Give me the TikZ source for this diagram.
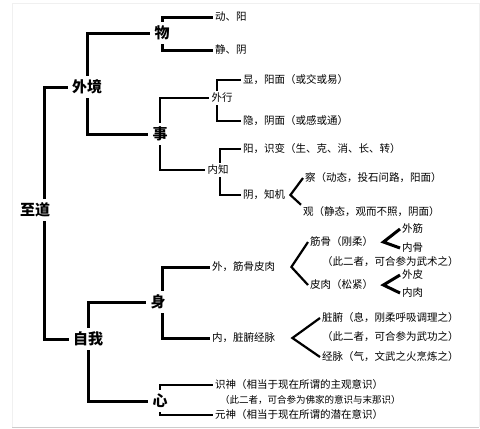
\documentclass[tikz,border=0pt]{standalone}
\usepackage{fontspec}
\newfontfamily\cjk{Noto Sans CJK SC}
\usepackage{tikz}
\usetikzlibrary{positioning,calc}

\begin{document}
\begin{tikzpicture}[x=1pt,y=-1pt,
    big/.style={font=\cjk\bfseries\fontsize{15}{15}\selectfont,inner sep=4pt},
    mid/.style={font=\cjk\fontsize{10.5}{11}\selectfont,inner sep=2pt},
    t/.style={font=\cjk\fontsize{10.5}{11}\selectfont,anchor=west,inner sep=2pt},
    br/.style={line width=3pt},
    thin/.style={line width=2.2pt}]
    \useasboundingbox (0,0) rectangle (480,429);
    \fill[white] (0,0) rectangle (480,429);
    \draw[black!6,line width=1pt] (12,427) -- (12,3) -- (479,3) -- (479,427);
    \draw[black!20,line width=1pt] (12,427) -- (479,427);
    % main labels
    \node[big] (zhidao) at (35,210) {至道};
    \node[big] (waijing) at (87,87) {外境};
    \node[big] (ziwo) at (88,339) {自我};
    \node[big] (wu) at (162,33) {物};
    \node[big] (shi) at (160,134) {事};
    \node[big] (shen) at (158,302) {身};
    \node[big] (xin) at (160,401) {心};
    \node[mid] (waixing) at (222,98) {外行};
    \node[mid] (neizhi) at (218,170) {内知};
    % leaves
    \node[t] (dong) at (213,17) {动、阳};
    \node[t] (jing) at (213,50) {静、阴};
    \node[t] (xian) at (241,80) {显，阳面（或交或易）};
    \node[t] (yinA) at (241,121) {隐，阴面（或感或通）};
    \node[t] (yangB) at (241,149) {阳，识变（生、克、消、长、转）};
    \node[t] (yinB) at (241,195) {阴，知机};
    \node[t] (cha) at (303,178) {察（动态，投石问路，阳面）};
    \node[t] (guan) at (301,212) {观（静态，观而不照，阴面）};
    \node[t] (wai) at (210,267) {外，筋骨皮肉};
    \node[t] (jingu) at (308,242) {筋骨（刚柔）};
    \node[t] (waijin) at (400,229) {外筋};
    \node[t] (neigu) at (400,248) {内骨};
    \node[t] (ciA) at (320,262) {（此二者，可合参为武术之）};
    \node[t] (pirou) at (308,285) {皮肉（松紧）};
    \node[t] (waipi) at (400,275) {外皮};
    \node[t] (neirou) at (400,293) {内肉};
    \node[t] (nei) at (210,338) {内，脏腑经脉};
    \node[t] (zangfu) at (320,318) {脏腑（息，刚柔呼吸调理之）};
    \node[t] (ciB) at (320,337) {（此二者，可合参为武功之）};
    \node[t] (jingmai) at (320,357) {经脉（气，文武之火烹炼之）};
    \node[t] (shishen) at (213,385) {识神（相当于现在所谓的主观意识）};
    \node[t,font=\cjk\fontsize{9.5}{10}\selectfont] (ciC) at (218,400) {（此二者，可合参为佛家的意识与末那识）};
    \node[t] (yuanshen) at (213,415) {元神（相当于现在所谓的潜在意识）};
    % brackets
    \draw[br] (waijing.west) -| ([xshift=9pt]zhidao.north);
    \draw[br] (ziwo.west) -| ([xshift=9pt]zhidao.south);
    \draw[br] (waijing.north) |- (wu.west);
    \draw[br] (waijing.south) |- (shi.west);
    \draw[br] (wu.north) |- (dong.west);
    \draw[br] (wu.south) |- (jing.west);
    \draw[thin] (shi.north) |- (waixing.west);
    \draw[thin] (shi.south) |- (neizhi.west);
    \draw[thin] ([xshift=-5pt]waixing.north) |- (xian.west);
    \draw[thin] ([xshift=-5pt]waixing.south) |- (yinA.west);
    \draw[thin] ([xshift=2pt]neizhi.north) |- (yangB.west);
    \draw[thin] ([xshift=2pt]neizhi.south) |- (yinB.west);
    \draw[thin] (cha.west) -- ([xshift=3pt]yinB.east) -- (guan.north west);
    \draw[br] (ziwo.north) |- (shen.west);
    \draw[br] (ziwo.south) |- (xin.west);
    \draw[br] ([xshift=4pt]shen.north) |- (wai.west);
    \draw[br] ([xshift=4pt]shen.south) |- (nei.west);
    \draw[thin] (jingu.west) -- ([xshift=14pt]wai.east) -- (pirou.west);
    \draw[br] (waijin.west) -- ([xshift=8pt]jingu.east) -- (neigu.west);
    \draw[br] (waipi.west) -- ([xshift=8pt]pirou.east) -- (neirou.west);
    \draw[thin] (zangfu.west) -- ([xshift=15pt]nei.east) -- (jingmai.west);
    \draw[thin] (xin.north) |- (shishen.west);
    \draw[thin] (xin.south) |- (yuanshen.west);
\end{tikzpicture}
\end{document}
